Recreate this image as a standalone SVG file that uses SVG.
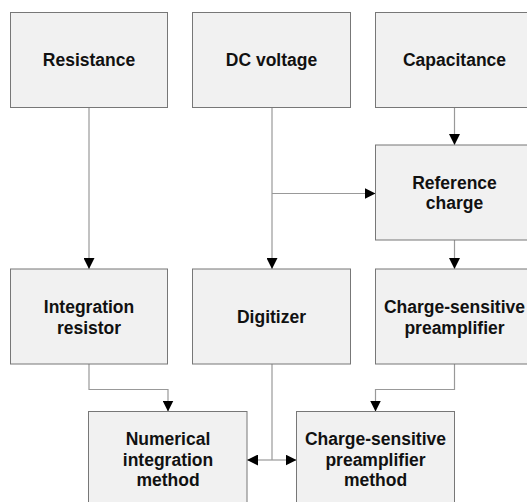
<svg xmlns="http://www.w3.org/2000/svg" width="527" height="502" viewBox="0 0 527 502">
<style>
.box{fill:#f1f1f1;stroke:#777;stroke-width:1}
.t{font-family:"Liberation Sans",Arial,sans-serif;font-weight:bold;font-size:17.5px;fill:#111;text-anchor:middle}
.c{fill:none;stroke:#999;stroke-width:1.2}
</style>
<defs>
<marker id="ah" viewBox="0 0 10 10" refX="10" refY="5" markerWidth="11" markerHeight="11" markerUnits="userSpaceOnUse" orient="auto">
<path d="M0,0 L10,5 L0,10 Z" fill="#000"/>
</marker>
</defs>
<rect width="527" height="502" fill="#fff"/>
<g id="connectors">
<path class="c" d="M89,107.5 V269" marker-end="url(#ah)"/>
<path class="c" d="M272,107.5 V269" marker-end="url(#ah)"/>
<path class="c" d="M272,193.5 H375.5" marker-end="url(#ah)"/>
<path class="c" d="M454.5,107.5 V145" marker-end="url(#ah)"/>
<path class="c" d="M454.5,240 V269" marker-end="url(#ah)"/>
<path class="c" d="M89,364 V389.5 H168 V411.5" marker-end="url(#ah)"/>
<path class="c" d="M454.5,364 V389.5 H375.5 V411.5" marker-end="url(#ah)"/>
<path class="c" d="M272,364 V460"/>
<path class="c" d="M272,460 H247" marker-end="url(#ah)"/>
<path class="c" d="M272,460 H296.5" marker-end="url(#ah)"/>
</g>
<g id="resistance"><rect class="box" x="10.5" y="12.5" width="157" height="95"/><text class="t" x="89" y="66">Resistance</text></g>
<g id="dc-voltage"><rect class="box" x="192.5" y="12.5" width="158" height="95"/><text class="t" x="271.5" y="66">DC voltage</text></g>
<g id="capacitance"><rect class="box" x="375.5" y="12.5" width="158" height="95"/><text class="t" x="454.5" y="66">Capacitance</text></g>
<g id="reference-charge"><rect class="box" x="375.5" y="145" width="158" height="95"/><text class="t" x="454.5" y="189">Reference</text><text class="t" x="454.5" y="209">charge</text></g>
<g id="integration-resistor"><rect class="box" x="10.5" y="269" width="157" height="95"/><text class="t" x="89" y="313">Integration</text><text class="t" x="89" y="334">resistor</text></g>
<g id="digitizer"><rect class="box" x="192.5" y="269" width="158" height="95"/><text class="t" x="271.5" y="323">Digitizer</text></g>
<g id="charge-preamp"><rect class="box" x="375.5" y="269" width="158" height="95"/><text class="t" x="454.5" y="313">Charge-sensitive</text><text class="t" x="454.5" y="334">preamplifier</text></g>
<g id="numerical-method"><rect class="box" x="88.5" y="411.5" width="158.5" height="100"/><text class="t" x="168" y="445">Numerical</text><text class="t" x="168" y="465.5">integration</text><text class="t" x="168" y="486">method</text></g>
<g id="preamp-method"><rect class="box" x="296.5" y="411.5" width="158" height="100"/><text class="t" x="375.5" y="445">Charge-sensitive</text><text class="t" x="375.5" y="465.5">preamplifier</text><text class="t" x="375.5" y="486">method</text></g>
</svg>
